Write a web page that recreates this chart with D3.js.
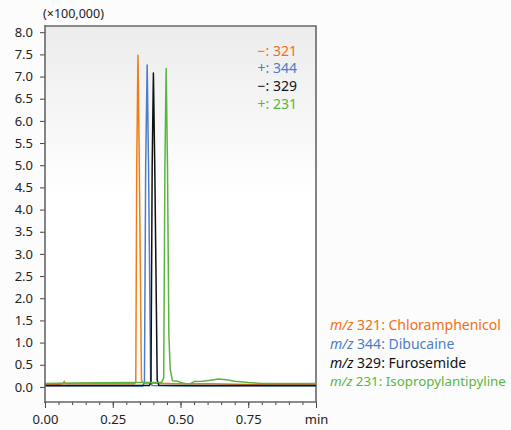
<!doctype html>
<html>
<head>
<meta charset="UTF-8">
<title>Chromatogram</title>
<script src="https://cdn.jsdelivr.net/npm/d3@7"></script>
<style>
  body { margin: 0; background: #fcfcfc; font-family: "Noto Sans", "Open Sans", sans-serif; }
  svg text { font-family: "Noto Sans", "Open Sans", sans-serif; }
</style>
</head>
<body>
<svg id="chart" width="511" height="430"></svg>
<script>
// retention time (min) and intensity (x100,000)
var orangeT = [0, 0.05, 0.068, 0.071, 0.074, 0.2, 0.33, 0.335, 0.3385, 0.343, 0.348, 0.356, 0.362, 0.45, 0.5, 0.62, 0.8, 1.0];
var orangeV = [0.06, 0.06, 0.07, 0.13, 0.07, 0.07, 0.07, 0.1, 5.0, 7.48, 5.0, 0.15, 0.09, 0.08, 0.07, 0.07, 0.05, 0.05];
var blueT = [0, 0.2, 0.36, 0.367, 0.3715, 0.377, 0.382, 0.39, 0.395, 0.5, 0.7, 1.0];
var blueV = [0.02, 0.02, 0.02, 0.1, 5.0, 7.26, 5.0, 0.12, 0.03, 0.02, 0.02, 0.02];
var blackT = [0, 0.2, 0.385, 0.391, 0.3955, 0.4, 0.405, 0.414, 0.42, 0.6, 1.0];
var blackV = [0.03, 0.03, 0.03, 0.1, 5.0, 7.08, 5.0, 0.15, 0.04, 0.03, 0.03];
var greenT = [0, 0.1, 0.3, 0.43, 0.438, 0.4425, 0.447, 0.452, 0.457, 0.462, 0.47, 0.49, 0.5, 0.52, 0.535, 0.55, 0.58, 0.61, 0.64, 0.67, 0.7, 0.75, 0.8, 0.9, 1.0];
var greenV = [0.08, 0.09, 0.1, 0.1, 0.2, 5.0, 7.18, 5.0, 1.2, 0.4, 0.14, 0.13, 0.1, 0.07, 0.07, 0.12, 0.13, 0.15, 0.18, 0.16, 0.13, 0.1, 0.08, 0.08, 0.08];

var seriesColors = ["#ef7d14", "#4f7cc6", "#111111", "#5cb440"];
var polarity = ["\u2212: 321", "+: 344", "\u2212: 329", "+: 231"];
var mzValues = ["321", "344", "329", "231"];
var compounds = ["Chloramphenicol", "Dibucaine", "Furosemide", "Isopropylantipyline"];
var textColors = ["#f07018", "#4f7cc6", "#111111", "#5cb440"];

var xTicks = [0, 0.25, 0.5, 0.75, 1.0];
var xTickLabels = ["0.00", "0.25", "0.50", "0.75", "min"];
var yTicks = [0, 0.5, 1, 1.5, 2, 2.5, 3, 3.5, 4, 4.5, 5, 5.5, 6, 6.5, 7, 7.5, 8];

var series = [
  { t: orangeT, v: orangeV },
  { t: blueT, v: blueV },
  { t: blackT, v: blackV },
  { t: greenT, v: greenV }
];

var svg = d3.select("#chart");
var pl = 45, pr = 316, pt = 26, pb = 402;

var x = d3.scaleLinear().domain([0, 1]).range([pl, pr]);
var y = d3.scaleLinear().domain([-0.34, 8.14]).range([pb, pt]);

var defs = svg.append("defs");
var grad = defs.append("linearGradient").attr("id", "bg").attr("x1", 0).attr("y1", 0).attr("x2", 0).attr("y2", 1);
grad.append("stop").attr("offset", "0%").attr("stop-color", "#ececec");
grad.append("stop").attr("offset", "45%").attr("stop-color", "#ffffff");
grad.append("stop").attr("offset", "100%").attr("stop-color", "#ffffff");
defs.append("clipPath").attr("id", "clip").append("rect")
  .attr("x", pl).attr("y", pt).attr("width", pr - pl).attr("height", pb - pt);

svg.append("rect").attr("x", pl).attr("y", pt).attr("width", pr - pl).attr("height", pb - pt)
  .attr("fill", "url(#bg)");

// frame top and right
svg.append("path")
  .attr("d", "M" + pl + "," + pt + "H" + pr + "V" + pb)
  .attr("fill", "none").attr("stroke", "#666").attr("stroke-width", 1.6);

// traces
var line = d3.line()
  .x(function (d) { return x(d[0]); })
  .y(function (d) { return y(d[1]); });

svg.append("g").attr("clip-path", "url(#clip)")
  .selectAll("path").data(series)
  .enter().append("path")
  .attr("d", function (s) { return line(d3.zip(s.t, s.v)); })
  .attr("fill", "none")
  .attr("stroke", function (s, i) { return seriesColors[i]; })
  .attr("stroke-width", 1.5)
  .attr("stroke-linejoin", "round");

// y axis
var yAxis = d3.axisLeft(y).tickValues(yTicks).tickFormat(d3.format(".1f")).tickSize(5).tickPadding(7);
var gy = svg.append("g").attr("transform", "translate(" + pl + ",0)").call(yAxis);
gy.select(".domain").remove();
gy.append("line").attr("x1", 0).attr("x2", 0).attr("y1", pt - 1).attr("y2", pb + 1)
  .attr("stroke", "#666").attr("stroke-width", 1.6);
gy.selectAll(".tick line").attr("stroke", "#444");
gy.selectAll(".tick text").attr("font-size", 13).attr("fill", "#222");

// x axis with minor ticks
var gxMinor = svg.append("g").attr("transform", "translate(0," + pb + ")")
  .call(d3.axisBottom(x).tickValues(d3.range(0, 21).map(function (i) { return i / 20; })).tickSize(3).tickFormat(""));
gxMinor.select(".domain").remove();
gxMinor.selectAll(".tick line").attr("stroke", "#444");

var gx = svg.append("g").attr("transform", "translate(0," + pb + ")")
  .call(d3.axisBottom(x).tickValues(xTicks).tickSize(6).tickPadding(7)
    .tickFormat(function (d, i) { return xTickLabels[i]; }));
gx.select(".domain").remove();
gx.append("line").attr("x1", pl - 1).attr("x2", pr + 1).attr("y1", 0).attr("y2", 0)
  .attr("stroke", "#666").attr("stroke-width", 1.6);
gx.selectAll(".tick line").attr("stroke", "#444");
gx.selectAll(".tick text").attr("font-size", 13).attr("fill", "#222");

svg.append("text").attr("x", 43).attr("y", 18).attr("font-size", 12.5).attr("fill", "#222")
  .text("(\u00d7100,000)");

// polarity legend in plot
svg.append("g").selectAll("text").data(polarity)
  .enter().append("text")
  .attr("x", 297).attr("y", function (d, i) { return 55.5 + i * 17.8; })
  .attr("text-anchor", "end").attr("font-size", 14)
  .attr("fill", function (d, i) { return textColors[i]; })
  .text(function (d) { return d; });

// compound legend
var leg = svg.append("g").selectAll("text").data(compounds)
  .enter().append("text")
  .attr("x", 330).attr("y", function (d, i) { return 330 + i * 18.8; })
  .attr("font-size", 14)
  .attr("fill", function (d, i) { return textColors[i]; });
leg.append("tspan").attr("font-style", "italic").text("m/z");
leg.append("tspan").text(function (d, i) { return " " + mzValues[i] + ": " + d; });
// shrink a name that would run past the page edge
leg.each(function () {
  var w = this.getComputedTextLength();
  if (w > 176) d3.select(this).attr("font-size", 14 * 176 / w);
});
</script>
</body>
</html>
